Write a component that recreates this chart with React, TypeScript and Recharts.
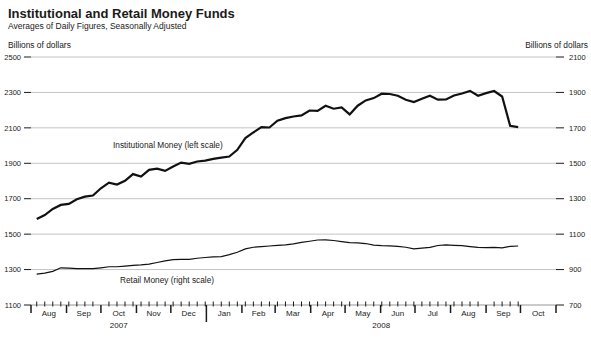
import { CartesianGrid, Line, LineChart, XAxis, YAxis } from 'recharts';

const DAY = 86400000;
const FIRST_WEEK = Date.UTC(2007, 7, 6);

// weekly averages, billions of dollars
const INSTITUTIONAL = [
  1586, 1608, 1642, 1665, 1671, 1697, 1712, 1718, 1759, 1791,
  1780, 1801, 1839, 1825, 1863, 1870, 1857, 1882, 1904, 1897,
  1910, 1915, 1925, 1932, 1938, 1976, 2042, 2074, 2104, 2102,
  2140, 2155, 2164, 2170, 2198, 2196, 2225, 2208, 2215, 2176,
  2225, 2255, 2268, 2293, 2291, 2281, 2259, 2246, 2264, 2281,
  2259, 2260, 2283, 2294, 2309, 2281, 2296, 2308, 2277, 2112,
  2104,
];
const RETAIL = [
  874, 880, 890, 910, 908, 905, 905, 905, 910, 916,
  916, 920, 924, 926, 931, 940, 949, 956, 958, 958,
  964, 968, 972, 973, 984, 998, 1017, 1026, 1029, 1033,
  1037, 1039, 1045, 1054, 1060, 1067, 1068, 1064, 1058, 1052,
  1051, 1047, 1038, 1035, 1034, 1031, 1026, 1017, 1021, 1025,
  1036, 1039, 1037, 1035, 1030, 1025, 1024, 1025, 1023, 1031,
  1033,
];

const MONTHS = ['Aug', 'Sep', 'Oct', 'Nov', 'Dec', 'Jan', 'Feb', 'Mar', 'Apr', 'May', 'Jun', 'Jul', 'Aug', 'Sep', 'Oct'];
const YEARS = ['2007', '2008'];
const LEFT_TICKS = [1100, 1300, 1500, 1700, 1900, 2100, 2300, 2500];
const RIGHT_TICKS = [700, 900, 1100, 1300, 1500, 1700, 1900, 2100];

const data = INSTITUTIONAL.map((v, i) => ({
  date: FIRST_WEEK + i * 7 * DAY,
  institutional: v,
  retail: RETAIL[i],
}));

const monthStarts = MONTHS.map((_, i) => Date.UTC(2007, 7 + i, 1)).concat(Date.UTC(2008, 10, 1));
const X_START = monthStarts[0];
const X_END = monthStarts[monthStarts.length - 1];
const JAN_2008 = Date.UTC(2008, 0, 1);

const sepSet = new Set(monthStarts);
const weekSet = new Set(data.map((d) => d.date));
const monthLabels = new Map<number, string>();
MONTHS.forEach((m, i) => monthLabels.set((monthStarts[i] + monthStarts[i + 1]) / 2, m));
const yearLabels = new Map<number, string>([
  [(X_START + JAN_2008) / 2, YEARS[0]],
  [(JAN_2008 + X_END) / 2, YEARS[1]],
]);
const X_TICKS = Array.from(
  new Set([...monthStarts, ...data.map((d) => d.date), ...monthLabels.keys(), ...yearLabels.keys()])
).sort((a, b) => a - b);

const INK = '#1a1a1a';
const FONT = '"Liberation Sans", Arial, Helvetica, sans-serif';

function TimeTick(props: any) {
  const { x, y, payload } = props;
  const v = payload.value;
  return (
    <g>
      {weekSet.has(v) && !sepSet.has(v) && <line x1={x} x2={x} y1={y - 3.5} y2={y + 1.5} stroke={INK} strokeWidth={1} />}
      {sepSet.has(v) && (
        <line x1={x} x2={x} y1={y} y2={y + (v === JAN_2008 ? 17 : 8)} stroke={INK} strokeWidth={1.5} />
      )}
      {monthLabels.has(v) && (
        <text x={x} y={y + 11} textAnchor="middle" fontSize={8} fill={INK} fontFamily={FONT}>
          {monthLabels.get(v)}
        </text>
      )}
      {yearLabels.has(v) && (
        <text x={x} y={y + 22.5} textAnchor="middle" fontSize={8} fill={INK} fontFamily={FONT}>
          {yearLabels.get(v)}
        </text>
      )}
    </g>
  );
}

export default function App() {
  return (
    <div style={{ position: 'absolute', left: 0, top: 0, width: 591, height: 341, background: '#fff', fontFamily: FONT }}>
      <LineChart width={591} height={341} data={data} margin={{ top: 57, right: 1, bottom: 0, left: 0 }}>
        <CartesianGrid yAxisId="left" vertical={false} stroke="#c4c4c4" />
        <XAxis
          dataKey="date"
          type="number"
          domain={[X_START, X_END]}
          ticks={X_TICKS}
          interval={0}
          height={36}
          tickSize={0}
          tickMargin={0}
          tickLine={false}
          axisLine={{ stroke: '#b5b5b5' }}
          tick={<TimeTick />}
        />
        <YAxis
          yAxisId="left"
          domain={[1100, 2500]}
          ticks={LEFT_TICKS}
          interval={0}
          width={31}
          tickSize={7}
          tickMargin={3}
          axisLine={false}
          tickLine={{ stroke: INK }}
          tick={{ fontSize: 7.5, fill: INK, fontFamily: FONT }}
        />
        <YAxis
          yAxisId="right"
          orientation="right"
          domain={[700, 2100]}
          ticks={RIGHT_TICKS}
          interval={0}
          width={34}
          tickSize={8}
          tickMargin={5}
          axisLine={false}
          tickLine={{ stroke: INK }}
          tick={{ fontSize: 7.5, fill: INK, fontFamily: FONT, textAnchor: 'start' }}
        />
        <Line yAxisId="left" dataKey="institutional" stroke="#111" strokeWidth={2.2} dot={false} isAnimationActive={false} />
        <Line yAxisId="right" dataKey="retail" stroke="#111" strokeWidth={1.2} dot={false} isAnimationActive={false} />
      </LineChart>
      <svg width={591} height={341} style={{ position: 'absolute', left: 0, top: 0, pointerEvents: 'none' }} fontFamily={FONT} fill={INK}>
        <text x={8} y={17.5} fontSize={13} fontWeight="bold">Institutional and Retail Money Funds</text>
        <text x={8} y={28.5} fontSize={8.5}>Averages of Daily Figures, Seasonally Adjusted</text>
        <text x={8} y={47.5} fontSize={8.4}>Billions of dollars</text>
        <text x={588} y={47.5} fontSize={8.4} textAnchor="end">Billions of dollars</text>
        <text x={113} y={148} fontSize={8.3}>Institutional Money (left scale)</text>
        <text x={120} y={282.5} fontSize={8.3}>Retail Money (right scale)</text>
      </svg>
    </div>
  );
}
